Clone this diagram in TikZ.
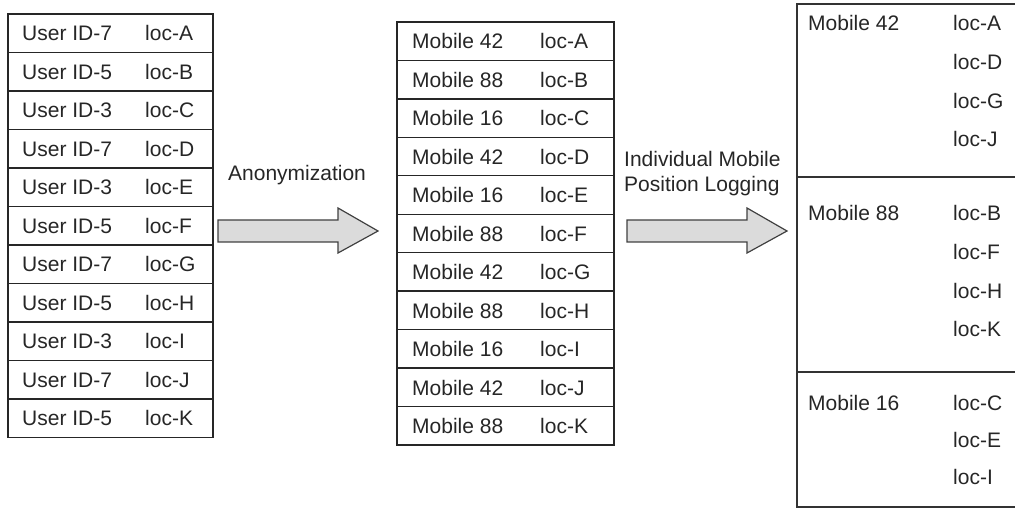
\documentclass[tikz,border=0pt]{standalone}
\usepackage{fontspec}
\setmainfont{Liberation Sans}
\begin{document}
\begin{tikzpicture}[x=1pt,y=-1pt,
  cell/.style={draw=black!85, line width=1.3pt, minimum width=#1, minimum height=38.5pt,
               inner sep=0pt, outer sep=0pt, anchor=north west},
  sect/.style={draw=black!80, line width=1.3pt, minimum width=219pt, minimum height=#1,
               inner sep=0pt, outer sep=0pt, anchor=north west},
  txt/.style={font=\fontsize{21}{25}\selectfont, anchor=base west, inner sep=0pt, text=black!85},
  blockarrow/.style={draw=black!75, fill=black!14, line width=1.2pt, line join=miter}]
\useasboundingbox (0,0) rectangle (1015,510);

% left table
\foreach \u/\l [count=\i] in {7/A,5/B,3/C,7/D,3/E,5/F,7/G,5/H,3/I,7/J,5/K} {
  \node[cell=205pt] (L\i) at (8,{14+(\i-1)*38.5}) {};
  \node[txt] (Lu\i) at (22,{14+(\i-1)*38.5+27}) {User ID-\u};
  \node[txt] (Ll\i) at (145,{14+(\i-1)*38.5+27}) {loc-\l};
}

% middle table
\foreach \m/\l [count=\i] in {42/A,88/B,16/C,42/D,16/E,88/F,42/G,88/H,16/I,42/J,88/K} {
  \node[cell=217pt,minimum height=38.45pt] (M\i) at (397,{22+(\i-1)*38.45}) {};
  \node[txt] (Mm\i) at (412,{22+(\i-1)*38.45+27}) {Mobile \m};
  \node[txt] (Ml\i) at (540,{22+(\i-1)*38.45+27}) {loc-\l};
}

% right table
\node[sect=173pt] (R1) at (797,4) {};
\node[sect=195pt] (R2) at (797,177) {};
\node[sect=135pt] (R3) at (797,372) {};
\node[txt] (R1m) at (808,31) {Mobile 42};
\node[txt] (R2m) at (808,221) {Mobile 88};
\node[txt] (R3m) at (808,411) {Mobile 16};
\foreach \l/\y [count=\i] in {A/31,D/70,G/109,J/147} {
  \node[txt] (R1l\i) at (953,\y) {loc-\l};
}
\foreach \l/\y [count=\i] in {B/221,F/260,H/299,K/337} {
  \node[txt] (R2l\i) at (953,\y) {loc-\l};
}
\foreach \l/\y [count=\i] in {C/411,E/448,I/485} {
  \node[txt] (R3l\i) at (953,\y) {loc-\l};
}

% block arrows
\draw[blockarrow] (218,220) -- (338,220) -- (338,208) -- (378,231) -- (338,253)
  -- (338,242) -- (218,242) -- cycle;
\draw[blockarrow] (627,220) -- (747,220) -- (747,208) -- (787,231) -- (747,253)
  -- (747,242) -- (627,242) -- cycle;

% labels
\node[txt] (anon) at (228,181) {Anonymization};
\node[txt] (ind1) at (624,167) {Individual Mobile};
\node[txt] (ind2) at (624,192) {Position Logging};
\end{tikzpicture}
\end{document}
